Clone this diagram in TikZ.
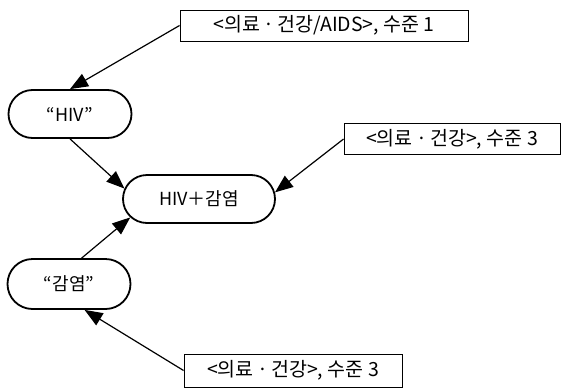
\documentclass[tikz,border=0pt]{standalone}
\usepackage{fontspec}
\setmainfont{Noto Sans CJK KR}
\usetikzlibrary{arrows.meta,shapes.misc}
\tikzset{
  labelbox/.style={draw, line width=0.9pt, rectangle, inner sep=0pt, font=\fontsize{19.5}{21}\selectfont, minimum height=31pt},
  pill/.style={draw, line width=1.8pt, rounded rectangle, inner sep=0pt, minimum height=48pt, font=\fontsize{18}{20}\selectfont},
  arr/.style={line width=1.2pt, -{Triangle[length=18pt,width=14pt]}}
}
\begin{document}
\begin{tikzpicture}[x=1pt,y=-1pt]
\useasboundingbox (0,0) rectangle (561,388);
\node[labelbox, minimum width=288pt] (top) at (324,25.5) {<의료\,·\,건강/AIDS>, 수준 1};
\node[labelbox, minimum width=216pt] (rb) at (452,139) {<의료\,·\,건강>, 수준 3};
\node[labelbox, minimum width=218pt, minimum height=33pt] (bot) at (293,370.5) {<의료\,·\,건강>, 수준 3};
\node[pill, minimum width=123pt] (hiv) at (70,114) {“HIV”};
\node[pill, minimum width=152pt] (c) at (199,199) {HIV＋감염};
\node[pill, minimum width=123pt, minimum height=50pt] (gam) at (69,284) {“감염”};
\draw[arr] (top.west) -- (hiv.north);
\draw[arr] (hiv.south) -- (c.172);
\draw[arr] (rb.west) -- (c.5);
\draw[arr] (gam.64) -- (c.195);
\draw[arr] (bot.west) -- (gam.301);
\end{tikzpicture}
\end{document}
